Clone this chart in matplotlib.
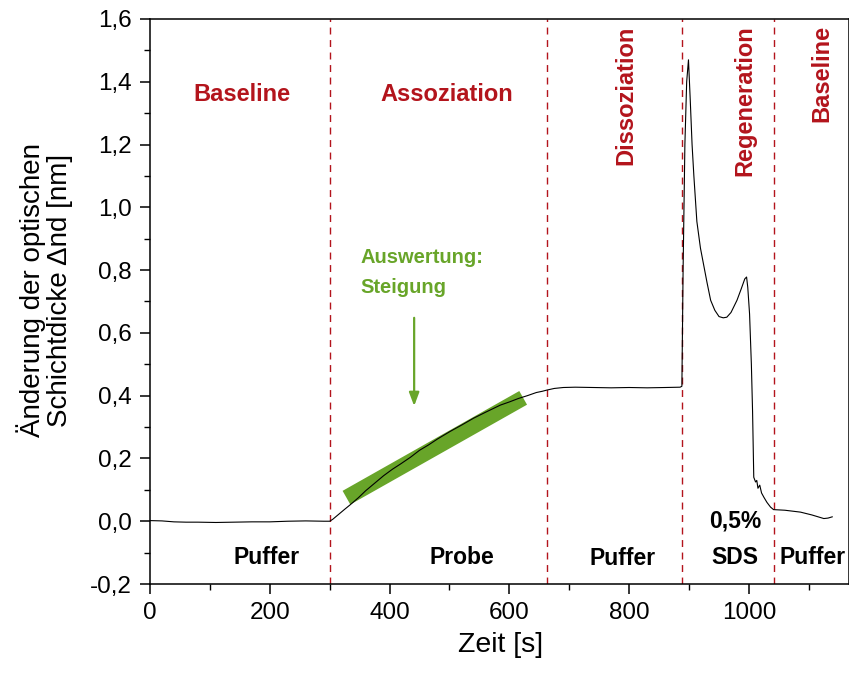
import numpy as np
import matplotlib
matplotlib.use("Agg")
from matplotlib import pyplot as plt
from matplotlib.ticker import MultipleLocator

plt.rcParams['font.family'] = ['Liberation Sans', 'DejaVu Sans']

# Messkurve (Zeit in s, Schichtdicke in nm)
t_base = [0, 20, 40, 60, 80, 110, 140, 170, 200, 230, 260, 290, 300]
d_base = [0.002, 0.001, -0.002, -0.003, -0.003, -0.004, -0.003, -0.002,
          -0.002, 0.000, 0.001, 0.000, 0.000]

t_asso = [305, 315, 325, 334, 348, 360, 375, 390, 405, 418, 435, 450, 465,
          480, 501, 520, 540, 560, 585, 600, 615, 630, 645, 655, 663]
d_asso = [0.006, 0.022, 0.038, 0.052, 0.075, 0.097, 0.121, 0.145, 0.166,
          0.182, 0.204, 0.226, 0.243, 0.262, 0.286, 0.306, 0.328, 0.347,
          0.370, 0.380, 0.391, 0.400, 0.410, 0.414, 0.418]

t_disso = [675, 690, 710, 740, 770, 800, 830, 860, 885]
d_disso = [0.423, 0.426, 0.427, 0.426, 0.425, 0.426, 0.425, 0.426, 0.427]

t_reg = [888, 890, 893, 896, 899, 902, 905, 908, 913, 919, 925, 930, 936,
         943, 950, 957, 963, 970, 980, 987, 993, 996, 998, 1001, 1004, 1006,
         1008, 1011, 1013, 1015, 1018, 1021, 1025, 1030, 1036, 1041]
d_reg = [0.43, 0.80, 1.20, 1.40, 1.47, 1.34, 1.20, 1.10, 0.955, 0.87, 0.81,
         0.76, 0.704, 0.672, 0.652, 0.648, 0.650, 0.665, 0.704, 0.740, 0.772,
         0.778, 0.745, 0.66, 0.50, 0.35, 0.14, 0.125, 0.130, 0.105, 0.115,
         0.090, 0.076, 0.060, 0.045, 0.037]

t_end = [1060, 1086, 1105, 1125, 1132, 1139]
d_end = [0.035, 0.029, 0.020, 0.0085, 0.010, 0.014]

zeit = t_base + t_asso + t_disso + t_reg + t_end
dicke = d_base + d_asso + d_disso + d_reg + d_end

# Phasengrenzen
grenzen = [300, 662, 888, 1041]

phasen_oben = ['Baseline', 'Assoziation']
phasen_oben_x = [154, 496]
phasen_oben_y = [1.36, 1.36]

phasen_rot = ['Dissoziation', 'Regeneration', 'Baseline']
phasen_rot_x = [795, 993, 1121]

loesung = ['Puffer', 'Probe', 'Puffer', 'SDS', '0,5%', 'Puffer']
loesung_x = [195, 520, 789, 976, 977, 1106]
loesung_y = [-0.114, -0.114, -0.12, -0.114, 0.0, -0.114]

# Auswertebereich Steigung
fit_t = [328, 623]
fit_d = [0.075, 0.393]

y_ticks = [-0.2, 0.0, 0.2, 0.4, 0.6, 0.8, 1.0, 1.2, 1.4, 1.6]
y_tick_labels = ['-0,2', '0,0', '0,2', '0,4', '0,6', '0,8', '1,0', '1,2',
                 '1,4', '1,6']
x_ticks = [0, 200, 400, 600, 800, 1000]

rot = '#b3141c'
gruen = '#68a529'

fig = plt.figure(figsize=(8.49, 6.75), dpi=100)
ax = fig.add_axes([150 / 849, 1 - 584 / 675, 699 / 849, 565 / 675])

for g in grenzen:
    ax.axvline(g, color=rot, lw=1.0, ls=(0, (5, 4)), zorder=1)

ax.plot(fit_t, fit_d, color=gruen, lw=11.3, solid_capstyle='butt', zorder=2)
ax.plot(zeit, dicke, color='black', lw=0.8, zorder=3)

ax.annotate('', xy=(441, 0.367), xytext=(441, 0.648),
            arrowprops=dict(arrowstyle='-|>,head_length=0.8,head_width=0.3',
                            color=gruen, lw=1.6, shrinkA=0, shrinkB=0))
ax.text(351, 0.84, 'Auswertung:', color=gruen, fontsize=14.5,
        fontweight='bold', ha='left', va='center')
ax.text(351, 0.744, 'Steigung', color=gruen, fontsize=14.5,
        fontweight='bold', ha='left', va='center')

for name, x, y in zip(phasen_oben, phasen_oben_x, phasen_oben_y):
    ax.text(x, y, name, color=rot, fontsize=17, fontweight='bold',
            ha='center', va='center')
for name, x in zip(phasen_rot, phasen_rot_x):
    ax.text(x, 1.58, name, color=rot, fontsize=17, fontweight='bold',
            ha='center', va='top', rotation=90)
for name, x, y in zip(loesung, loesung_x, loesung_y):
    ax.text(x, y, name, color='black', fontsize=16.5, fontweight='bold',
            ha='center', va='center')

ax.set_xlim(0, 1167)
ax.set_ylim(-0.2, 1.6)
ax.set_xticks(x_ticks)
ax.set_yticks(y_ticks)
ax.set_yticklabels(y_tick_labels)
ax.xaxis.set_minor_locator(MultipleLocator(100))
ax.yaxis.set_minor_locator(MultipleLocator(0.1))
ax.tick_params(which='major', direction='out', length=7, width=1.1,
               labelsize=17.5, pad=6)
ax.tick_params(which='minor', direction='out', length=4, width=1.0)
for s in ax.spines.values():
    s.set_linewidth(1.1)

fig.text(501 / 849, 1 - 645 / 675, 'Zeit [s]', fontsize=20.5,
         ha='center', va='center')
fig.text(45 / 849, 1 - 290 / 675,
         'Änderung der optischen\nSchichtdicke Δnd [nm]', fontsize=20,
         ha='center', va='center', rotation=90, linespacing=1.05)

fig.savefig('out.png', dpi=100)
